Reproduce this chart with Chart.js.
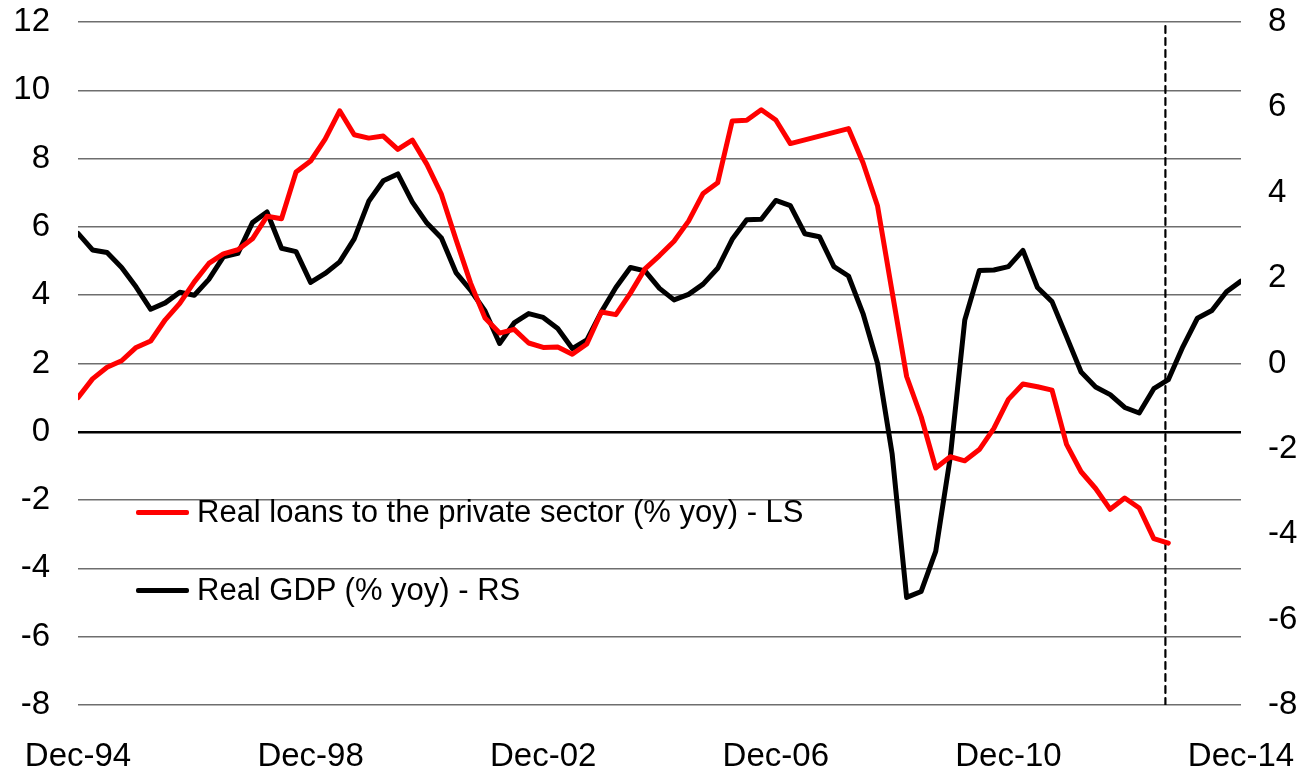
<!DOCTYPE html>
<html>
<head>
<meta charset="utf-8">
<script src="https://cdn.jsdelivr.net/npm/chart.js@4"></script>
<style>
  body { margin: 0; background: #fff; }
  #wrap { position: relative; width: 1304px; height: 772px; }
  #legend { position: absolute; left: 136px; top: 490px; font-family: 'Liberation Sans', Arial, sans-serif; font-size: 31px; color: #000; }
  .item { display: flex; align-items: center; height: 44px; margin-bottom: 34px; }
  .swatch { width: 53px; height: 5px; border-radius: 2px; margin-right: 8px; }
</style>
</head>
<body>
<div id="wrap">
  <canvas id="chart" width="1304" height="772"></canvas>
  <div id="legend"></div>
</div>
<script>
// quarterly, Dec-94 .. Dec-14 (index 0 .. 80)
const xTickLabels = ['Dec-94', 'Dec-98', 'Dec-02', 'Dec-06', 'Dec-10', 'Dec-14'];

const realLoans = [
  1.0, 1.55, 1.89, 2.08, 2.47, 2.66, 3.28, 3.76, 4.39, 4.93,
  5.21, 5.33, 5.65, 6.31, 6.24, 7.61, 7.93, 8.57, 9.40, 8.70,
  8.60, 8.66, 8.27, 8.54, 7.83, 6.95, 5.63, 4.36, 3.33, 2.89,
  3.0, 2.60, 2.47, 2.48, 2.27, 2.57, 3.51, 3.43, 4.06, 4.77,
  5.16, 5.58, 6.17, 6.98, 7.29, 9.10, 9.12, 9.43, 9.13, 8.44,
  8.55, 8.66, 8.77, 8.88, 7.88, 6.61, 4.1, 1.62, 0.44, -1.06,
  -0.73, -0.85, -0.52, 0.10, 0.95, 1.40, 1.32, 1.22, -0.37, -1.17,
  -1.66, -2.27, -1.94, -2.23, -3.13, -3.26,
];

const realGdp = [
  3.05, 2.66, 2.60, 2.25, 1.79, 1.27, 1.42, 1.67, 1.60, 1.97,
  2.50, 2.58, 3.30, 3.55, 2.70, 2.62, 1.90, 2.11, 2.38, 2.92,
  3.80, 4.28, 4.44, 3.78, 3.29, 2.94, 2.13, 1.72, 1.23, 0.47,
  0.95, 1.17, 1.08, 0.82, 0.35, 0.55, 1.21, 1.78, 2.25, 2.17,
  1.76, 1.49, 1.62, 1.86, 2.23, 2.91, 3.37, 3.38, 3.82, 3.70,
  3.04, 2.97, 2.27, 2.05, 1.17, 0.0, -2.11, -5.48, -5.34, -4.40,
  -2.2, 1.02, 2.18, 2.19, 2.27, 2.65, 1.78, 1.45, 0.63, -0.20,
  -0.55, -0.73, -1.03, -1.16, -0.59, -0.38, 0.39, 1.06, 1.24, 1.68,
  1.93,
];

const forecastStart = 74.8;
const leftRange = [-8, 12];
const rightRange = [-8, 8];

const font = { family: "'Liberation Sans', Arial, sans-serif", size: 33 };

function toPoints(values) {
  return values.map((v, i) => ({ x: i, y: v }));
}

function noOverflow(scale) {
  scale.paddingLeft = 0;
  scale.paddingRight = 0;
  scale.paddingTop = 0;
  scale.paddingBottom = 0;
}

const chart = new Chart(document.getElementById('chart'), {
  type: 'line',
  data: {
    datasets: [
      {
        label: 'Real loans to the private sector (% yoy) - LS',
        data: toPoints(realLoans),
        borderColor: '#ff0000',
        borderWidth: 5,
        yAxisID: 'yL',
      },
      {
        label: 'Real GDP (% yoy) - RS',
        data: toPoints(realGdp),
        borderColor: '#000000',
        borderWidth: 5,
        yAxisID: 'yR',
      },
      {
        label: 'forecast',
        data: [{ x: forecastStart, y: leftRange[0] }, { x: forecastStart, y: leftRange[1] }],
        borderColor: '#000000',
        borderWidth: 2.2,
        borderDash: [7, 5],
        yAxisID: 'yL',
        hideInLegend: true,
      },
    ],
  },
  options: {
    responsive: false,
    animation: false,
    devicePixelRatio: 1,
    layout: { padding: { top: 22, left: 0, right: 0, bottom: 0 } },
    elements: {
      point: { radius: 0 },
      line: { tension: 0, borderJoinStyle: 'round', borderCapStyle: 'round' },
    },
    plugins: { legend: { display: false }, tooltip: { enabled: false } },
    scales: {
      x: {
        type: 'linear',
        min: 0,
        max: 80,
        afterBuildTicks: (scale) => {
          scale.ticks = xTickLabels.map((_, i) => ({ value: i * 16 }));
        },
        afterFit: (scale) => { scale.height = 67; noOverflow(scale); },
        grid: { display: false, drawTicks: false },
        border: { display: false },
        ticks: {
          font: font,
          color: '#000',
          padding: 32,
          maxRotation: 0,
          autoSkip: false,
          callback: (value) => xTickLabels[value / 16],
        },
      },
      yL: {
        position: 'left',
        min: leftRange[0],
        max: leftRange[1],
        afterFit: (scale) => { scale.width = 78; noOverflow(scale); },
        border: { display: false },
        grid: {
          drawTicks: false,
          color: (ctx) => (ctx.tick && ctx.tick.value === 0 ? '#000' : '#6e6e6e'),
          lineWidth: (ctx) => (ctx.tick && ctx.tick.value === 0 ? 2.5 : 1.5),
        },
        ticks: { stepSize: 2, font: font, color: '#000', padding: 28 },
      },
      yR: {
        position: 'right',
        min: rightRange[0],
        max: rightRange[1],
        afterFit: (scale) => { scale.width = 63; noOverflow(scale); },
        border: { display: false },
        grid: { display: false, drawTicks: false },
        ticks: { stepSize: 2, font: font, color: '#000', padding: 27 },
      },
    },
  },
});

const legendEl = document.getElementById('legend');
for (const ds of chart.data.datasets) {
  if (ds.hideInLegend) continue;
  const item = document.createElement('div');
  item.className = 'item';
  const swatch = document.createElement('span');
  swatch.className = 'swatch';
  swatch.style.background = ds.borderColor;
  const text = document.createElement('span');
  text.textContent = ds.label;
  item.appendChild(swatch);
  item.appendChild(text);
  legendEl.appendChild(item);
}
</script>
</body>
</html>
